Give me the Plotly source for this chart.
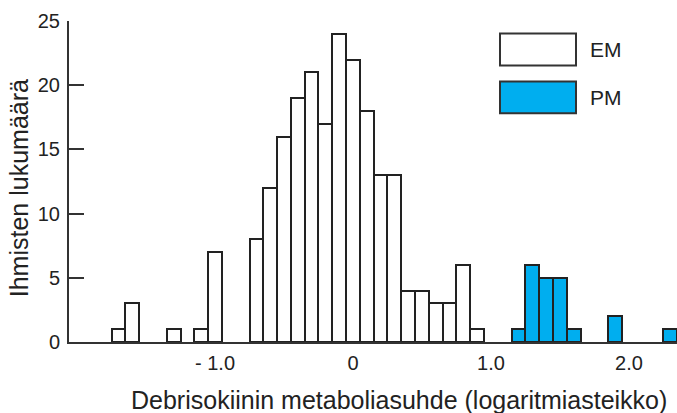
import plotly.graph_objects as go

# Histogram data (log metabolic ratio bins of width 0.1, counts)
em_centers = [-1.7, -1.6, -1.3, -1.1, -1.0, -0.7, -0.6, -0.5, -0.4, -0.3, -0.2, -0.1,
              0.0, 0.1, 0.2, 0.3, 0.4, 0.5, 0.6, 0.7, 0.8, 0.9]
em_counts = [1, 3, 1, 1, 7, 8, 12, 16, 19, 21, 17, 24, 22, 18, 13, 13, 4, 4, 3, 3, 6, 1]
pm_centers = [1.2, 1.3, 1.4, 1.5, 1.6, 1.9, 2.3]
pm_counts = [1, 6, 5, 5, 1, 2, 1]
bin_width = 0.1

x_tickvals = [-1.0, 0.0, 1.0, 2.0]
x_ticktext = ["- 1.0", "0", "1.0", "2.0"]
y_tickvals = [0, 5, 10, 15, 20, 25]

legend_labels = ["EM", "PM"]
x_title = "Debrisokiinin metaboliasuhde (logaritmiasteikko)"
y_title = "Ihmisten lukumäärä"

FONT = "Liberation Sans, Arial, Helvetica, sans-serif"
INK = "#222222"
EM_FILL = "#FFFFFF"
PM_FILL = "#00AEEF"

fig = go.Figure()
fig.add_trace(go.Bar(x=em_centers, y=em_counts, width=[bin_width] * len(em_centers),
                     marker=dict(color=EM_FILL, line=dict(color=INK, width=2)),
                     name=legend_labels[0], showlegend=False))
fig.add_trace(go.Bar(x=pm_centers, y=pm_counts, width=[bin_width] * len(pm_centers),
                     marker=dict(color=PM_FILL, line=dict(color=INK, width=2)),
                     name=legend_labels[1], showlegend=False))

W, H = 677, 413
ml, mr, mt, mb = 69, 0, 20.5, 71
pw, ph = W - ml - mr, H - mt - mb


def px(xp):
    return (xp - ml) / pw


def py(yp):
    return (H - mb - yp) / ph


fig.update_layout(
    width=W, height=H,
    margin=dict(l=ml, r=mr, t=mt, b=mb, pad=0, autoexpand=False),
    paper_bgcolor="white", plot_bgcolor="white",
    font=dict(family=FONT, color=INK, size=20),
    barmode="overlay", bargap=0,
    showlegend=False,
)
fig.update_xaxes(
    range=[-2.058, 2.348], showgrid=False, zeroline=False, automargin=False,
    showline=True, linecolor="#333333", linewidth=2,
    tickvals=x_tickvals, ticktext=x_ticktext, ticks="",
    tickfont=dict(size=20, family=FONT, color=INK),
    ticklabelstandoff=2,
)
fig.update_yaxes(
    range=[0, 25], showgrid=False, zeroline=False, automargin=False,
    showline=True, linecolor="#333333", linewidth=2,
    tickvals=y_tickvals, ticks="inside", ticklen=15, tickwidth=2, tickcolor="#333333",
    tickfont=dict(size=20, family=FONT, color=INK),
    ticklabelstandoff=3,
)

# Legend drawn as boxes + labels
boxes = [(33, 65, EM_FILL), (81, 113, PM_FILL)]
for (y0, y1, fill), lab in zip(boxes, legend_labels):
    fig.add_shape(type="rect", xref="paper", yref="paper",
                  x0=px(500), x1=px(576), y0=py(y1), y1=py(y0),
                  fillcolor=fill, line=dict(color="#333333", width=2))
    fig.add_annotation(xref="paper", yref="paper", x=px(588), y=py((y0 + y1) / 2),
                       text=lab, showarrow=False, xanchor="left", yanchor="middle",
                       font=dict(size=21, family=FONT, color=INK))

# Axis titles
fig.add_annotation(xref="paper", yref="paper", x=px(129), y=py(400), text=x_title,
                   showarrow=False, xanchor="left", yanchor="middle",
                   font=dict(size=25, family=FONT, color=INK))
fig.add_annotation(xref="paper", yref="paper", x=px(19), y=py(188), text=y_title,
                   showarrow=False, xanchor="center", yanchor="middle", textangle=-90,
                   font=dict(size=25, family=FONT, color=INK))

fig.write_html("out.html", config={"displayModeBar": False},
               post_script="document.body.style.margin='0';document.body.style.overflow='hidden';")
